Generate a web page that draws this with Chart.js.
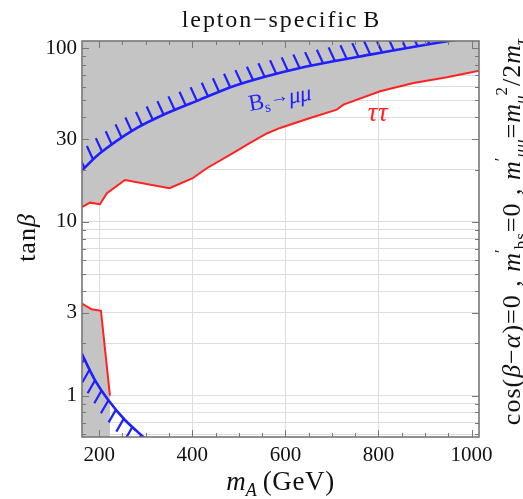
<!DOCTYPE html>
<html><head><meta charset="utf-8">
<script src="https://cdn.jsdelivr.net/npm/chart.js@4.4.0/dist/chart.umd.min.js"></script>
<style>html,body{margin:0;padding:0;background:#fff;}canvas{display:block;}</style>
</head><body>
<canvas id="c" width="523" height="499" style="width:523px;height:499px"></canvas>
<script>
// ---- data (m_A in GeV, tan beta) ----
const tauUpperMA   = [162.2, 180, 201.5, 216.6, 255.3, 351, 400.9, 431, 488.2, 524.1, 560, 588.6, 653.1, 710.5, 724.7, 803.6, 875.3, 947.1, 1016.6];
const tauUpperTanB = [12.14, 12.91, 12.64, 14.62, 17.44, 15.62, 17.84, 20.37, 24.95, 28.49, 32.3, 34.75, 39.68, 44.3, 47.3, 56.5, 63.1, 68.05, 74.3];
const tauLowerMA   = [162.2, 183.7, 203.7, 223];
const tauLowerTanB = [3.40, 3.14, 3.08, 1.0];
const bsUpperMA    = [162.2, 201.5, 273.1, 344.9, 416.6, 488.2, 560, 631.6, 703.2, 782.2, 868.2, 947.7, 1018.7];
const bsUpperTanB  = [19.7, 24.85, 33.8, 42.2, 50.6, 60.4, 68.96, 76.9, 84.1, 91.8, 101, 109.6, 117.5];
const bsLowerMA    = [162.2, 190.8, 219.4, 255.3, 294.6, 305];
const bsLowerTanB  = [1.75, 1.23, 0.944, 0.724, 0.579, 0.55];
const xTickValues  = [200, 250, 300, 350, 400, 450, 500, 550, 600, 650, 700, 750, 800, 850, 900, 950, 1000];
const xTickLabels  = [200, 400, 600, 800, 1000];
const xGridValues  = [200, 400, 600, 800];
const yTickValues  = [0.6, 0.7, 0.8, 0.9, 1, 2, 3, 4, 5, 6, 7, 8, 9, 10, 20, 30, 40, 50, 60, 70, 80, 90, 100];
const yTickLabels  = [1, 3, 10, 30, 100];

const toXY = (xs, ys) => xs.map((x, i) => ({x: x, y: ys[i]}));

const RED = '#ff2222', BLUE = '#1f1fff', GRAY = '#c4c4c4', FRAME = '#777777';
const SERIF = '"Liberation Serif", "Times New Roman", serif';

// runs: [text, font, dy, spacing]
function runsWidth(ctx, runs) {
  let w = 0;
  runs.forEach(r => {
    ctx.font = r[1];
    const sp = r[3] || 0;
    for (const ch of r[0]) w += ctx.measureText(ch).width + sp;
  });
  return w;
}
function drawRuns(ctx, runs, x, y, align) {
  const total = runsWidth(ctx, runs);
  let cx = align === 'center' ? x - total / 2 : x;
  ctx.textAlign = 'left';
  ctx.textBaseline = 'alphabetic';
  runs.forEach(r => {
    ctx.font = r[1];
    const sp = r[3] || 0;
    for (const ch of r[0]) {
      ctx.fillText(ch, cx, y + (r[2] || 0));
      cx += ctx.measureText(ch).width + sp;
    }
  });
  return total;
}

function hatch(ctx, pts, dir, len, spacing, offset) {
  const n = Math.hypot(dir[0], dir[1]);
  const dx = dir[0] / n * len, dy = dir[1] / n * len;
  let t0 = offset;
  ctx.beginPath();
  for (let i = 0; i < pts.length - 1; i++) {
    const a = pts[i], b = pts[i + 1];
    const L = Math.hypot(b.x - a.x, b.y - a.y);
    let t = t0;
    while (t <= L) {
      const px = a.x + (b.x - a.x) * t / L, py = a.y + (b.y - a.y) * t / L;
      ctx.moveTo(px, py);
      ctx.lineTo(px + dx, py + dy);
      t += spacing;
    }
    t0 = t - L;
  }
  ctx.stroke();
}

const decor = {
  id: 'decor',
  afterDatasetsDraw(chart) {
    const ctx = chart.ctx, a = chart.chartArea;
    const xs = chart.scales.x, ys = chart.scales.y;
    ctx.save();
    ctx.beginPath();
    ctx.rect(a.left, a.top, a.right - a.left, a.bottom - a.top);
    ctx.clip();
    ctx.strokeStyle = BLUE; ctx.lineWidth = 2.2; ctx.lineCap = 'butt';
    hatch(ctx, chart.getDatasetMeta(0).data, [-0.42, -0.91], 15, 12, 4);
    hatch(ctx, chart.getDatasetMeta(1).data, [-0.5, 0.87], 15, 12, 6);
    ctx.restore();

    // frame ticks
    ctx.save();
    ctx.strokeStyle = FRAME; ctx.lineWidth = 1;
    ctx.beginPath();
    xTickValues.forEach(v => {
      const p = Math.round(xs.getPixelForValue(v)) + 0.5;
      const l = xTickLabels.includes(v) ? 7 : 4;
      ctx.moveTo(p, a.bottom); ctx.lineTo(p, a.bottom - l);
      ctx.moveTo(p, a.top); ctx.lineTo(p, a.top + l);
    });
    yTickValues.forEach(v => {
      const p = Math.round(ys.getPixelForValue(v)) + 0.5;
      const l = yTickLabels.includes(v) ? 7 : 4;
      ctx.moveTo(a.left, p); ctx.lineTo(a.left + l, p);
      ctx.moveTo(a.right, p); ctx.lineTo(a.right - l, p);
    });
    ctx.stroke();
    ctx.lineWidth = 1.6;
    ctx.strokeRect(a.left, a.top, a.right - a.left, a.bottom - a.top);
    ctx.restore();

    // texts
    ctx.save();
    ctx.fillStyle = '#111';
    const cxm = (a.left + a.right) / 2;
    drawRuns(ctx, [['lepton\u2212specific', '24px ' + SERIF, 0, 1.9], ['\u2009B', '24px ' + SERIF, 0, 0]], cxm, 27, 'center');
    drawRuns(ctx, [['m', 'italic 27px ' + SERIF, 0, 0], ['A', 'italic 18px ' + SERIF, 6, 0], ['\u2009(GeV)', '27px ' + SERIF, 0, 0.6]], cxm, 490, 'center');
    // y title
    ctx.save();
    ctx.translate(35, 238);
    ctx.rotate(-Math.PI / 2);
    drawRuns(ctx, [['tan', '26px ' + SERIF, 0, 1], ['\u03b2', 'italic 26px ' + SERIF, 0, 0]], 0, 0, 'center');
    ctx.restore();
    // right note
    ctx.save();
    ctx.translate(520, 232);
    ctx.rotate(-Math.PI / 2);
    const F = '26px ' + SERIF, FI = 'italic 26px ' + SERIF, FS = '17px ' + SERIF, FSI = 'italic 17px ' + SERIF;
    drawRuns(ctx, [
      ['cos(', F, 0, 1], ['\u03b2', FI, 0, 1], ['\u2212', F, 0, 1], ['\u03b1', FI, 0, 1], [')=0 , ', F, 0, 1],
      ['m', FI, 0, 0], ['\u2032', FS, -14, 0], ['bs', FS, 6, 1], ['=0 , ', F, 0, 1],
      ['m', FI, 0, 0], ['\u2032', FS, -14, 0], ['\u03bc\u03bc', FSI, 6, 1], ['=', F, 0, 1],
      ['m', FI, 0, 0], ['\u03bc', FSI, 6, 0], ['2', FS, -13, 1], ['/2', F, 0, 1], ['m', FI, 0, 0], ['\u03c4', FSI, 6, 0]
    ], 0, 0, 'center');
    ctx.restore();
    // B_s -> mu mu label
    ctx.save();
    ctx.translate(250, 111);
    ctx.rotate(-0.18);
    ctx.fillStyle = BLUE;
    drawRuns(ctx, [['B', '23px ' + SERIF, 0, 0], ['s', '15px ' + SERIF, 4, 0.5], ['\u2192', '19px ' + SERIF, -3, 0], ['\u03bc\u03bc', 'italic 23px ' + SERIF, 0, -0.5]], 0, 0, 'left');
    ctx.restore();
    // tau tau label
    ctx.fillStyle = RED;
    drawRuns(ctx, [['\u03c4\u03c4', 'italic 27px ' + SERIF, 0, 0.5]], 378, 121, 'center');
    ctx.restore();
  }
};

new Chart(document.getElementById('c'), {
  type: 'scatter',
  data: {
    datasets: [
      {label: 'Bs upper', data: toXY(bsUpperMA, bsUpperTanB), showLine: true, borderColor: BLUE, borderWidth: 2.6, pointRadius: 0, tension: 0.3, fill: false, order: 0, clip: 0},
      {label: 'Bs lower', data: toXY(bsLowerMA, bsLowerTanB), showLine: true, borderColor: BLUE, borderWidth: 2.6, pointRadius: 0, tension: 0.3, fill: false, order: 0, clip: 0},
      {label: 'tautau upper', data: toXY(tauUpperMA, tauUpperTanB), showLine: true, borderColor: RED, borderWidth: 2, pointRadius: 0, tension: 0, fill: 'end', backgroundColor: GRAY, order: 1, clip: 0},
      {label: 'tautau lower', data: toXY(tauLowerMA, tauLowerTanB), showLine: true, borderColor: RED, borderWidth: 2, pointRadius: 0, tension: 0, fill: 'start', backgroundColor: GRAY, order: 1, clip: 0}
    ]
  },
  options: {
    responsive: false,
    animation: false,
    devicePixelRatio: 1,
    layout: {padding: {top: 41, right: 44, left: 0, bottom: 0}},
    plugins: {legend: {display: false}, tooltip: {enabled: false}, title: {display: false}},
    scales: {
      x: {
        type: 'linear', min: 163, max: 1016,
        afterBuildTicks: s => { s.ticks = xTickValues.map(v => ({value: v})); },
        afterFit: s => { s.height = 62; },
        border: {display: false},
        grid: {drawTicks: false, lineWidth: 1, color: c => (c.tick && xGridValues.includes(c.tick.value)) ? '#dddddd' : 'rgba(0,0,0,0)'},
        ticks: {autoSkip: false, maxRotation: 0, padding: 6, color: '#111', font: {family: SERIF, size: 21},
          callback: v => xTickLabels.includes(v) ? String(v) : ''}
      },
      y: {
        type: 'logarithmic', min: 0.578, max: 110,
        afterBuildTicks: s => { s.ticks = yTickValues.map(v => ({value: v})); },
        afterFit: s => { s.width = 82; },
        border: {display: false},
        grid: {drawTicks: false, lineWidth: 1, color: '#dddddd'},
        ticks: {autoSkip: false, padding: 5, color: '#111', font: {family: SERIF, size: 21},
          callback: v => yTickLabels.includes(v) ? String(v) : ''}
      }
    }
  },
  plugins: [decor]
});
</script>
</body></html>
